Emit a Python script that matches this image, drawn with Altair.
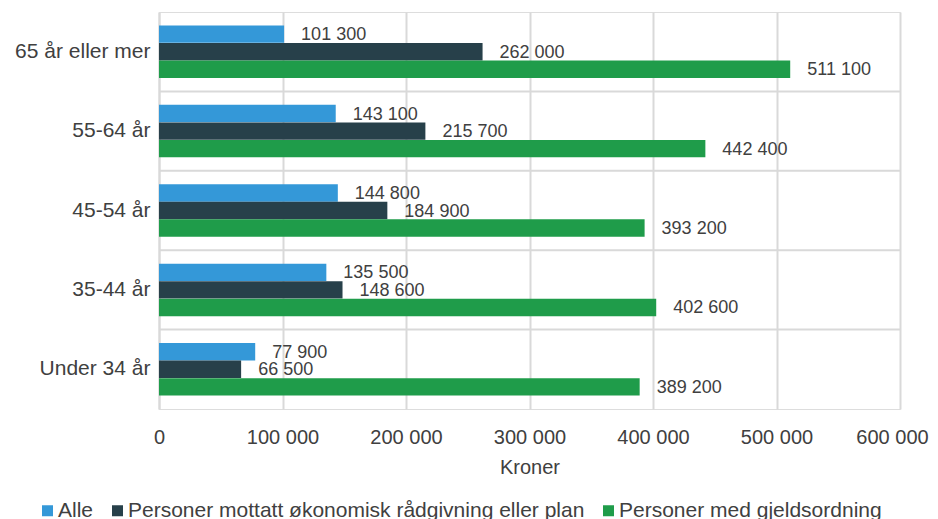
import altair as alt
import pandas as pd

categories = ["65 år eller mer", "55-64 år", "45-54 år", "35-44 år", "Under 34 år"]
series = ["Alle", "Personer mottatt økonomisk rådgivning eller plan", "Personer med gjeldsordning"]
alle = [101300, 143100, 144800, 135500, 77900]
plan = [262000, 215700, 184900, 148600, 66500]
gjeld = [511100, 442400, 393200, 402600, 389200]
colors = ["#3498d8", "#27404a", "#1f9c4a"]
x_ticks = [0, 100000, 200000, 300000, 400000, 500000, 600000]

rows = []
for s, vals in zip(series, [alle, plan, gjeld]):
    for c, v in zip(categories, vals):
        rows.append({"cat": c, "serie": s, "v": v, "lab": f"{v:,}".replace(",", " ")})
df = pd.DataFrame(rows)
grid_df = pd.DataFrame({"cat": categories[1:]})

FONT = "Liberation Sans"
TXT = "#404040"

y_enc = alt.Y("cat:N", sort=categories, title=None,
              scale=alt.Scale(paddingInner=0, paddingOuter=0),
              axis=alt.Axis(ticks=False, labelFontSize=21, labelColor=TXT, labelFont=FONT,
                            labelPadding=9, labelLimit=0,
                            domainColor="#d9d9d9", domainWidth=2, grid=False))
yoff = alt.YOffset("serie:N", sort=series,
                   scale=alt.Scale(paddingInner=0, paddingOuter=0.76))
x_enc = alt.X("v:Q", title="Kroner",
              scale=alt.Scale(domain=[0, 600000], nice=False),
              axis=alt.Axis(values=x_ticks, ticks=False, domain=False,
                            labelExpr="replace(format(datum.value, ','), ',', ' ')",
                            labelOffset=alt.condition("datum.value == 600000", alt.value(-8), alt.value(0)),
                            labelFontSize=20, labelColor=TXT, labelFont=FONT, labelPadding=18,
                            titleFontSize=20, titleColor=TXT, titleFont=FONT, titleFontWeight="normal",
                            titlePadding=10,
                            gridColor="#d9d9d9", gridWidth=2, labelFlush=False))

base = alt.Chart(df)
bars = base.mark_bar(size=17.4).encode(
    y=y_enc, yOffset=yoff, x=x_enc,
    color=alt.Color("serie:N", sort=series,
                    scale=alt.Scale(domain=series, range=colors),
                    legend=alt.Legend(title=None, orient="none", legendX=-122, legendY=488,
                                      direction="horizontal",
                                      symbolType="square", symbolSize=121, symbolStrokeWidth=0,
                                      labelFontSize=21, labelColor=TXT, labelFont=FONT,
                                      labelLimit=0, columnPadding=13, labelOffset=0)),
)
text = base.mark_text(align="left", baseline="middle", dx=17, dy=1, fontSize=18,
                      font=FONT, color=TXT).encode(
    y=alt.Y("cat:N", sort=categories), yOffset=alt.YOffset("serie:N", sort=series),
    x=alt.X("v:Q"), text="lab:N")
rules = alt.Chart(grid_df).mark_rule(color="#d9d9d9", strokeWidth=2).encode(
    y=alt.Y("cat:N", sort=categories, bandPosition=0))

chart = alt.layer(rules, bars, text).properties(
    width=741, height=397,
    autosize=alt.AutoSizeParams(type="none"),
    padding={"left": 151, "top": 4, "right": 30, "bottom": 110},
).configure_view(stroke="#d9d9d9", strokeWidth=2).configure(background="white")

chart.save("out.html", embed_options={"renderer": "svg", "actions": False})
